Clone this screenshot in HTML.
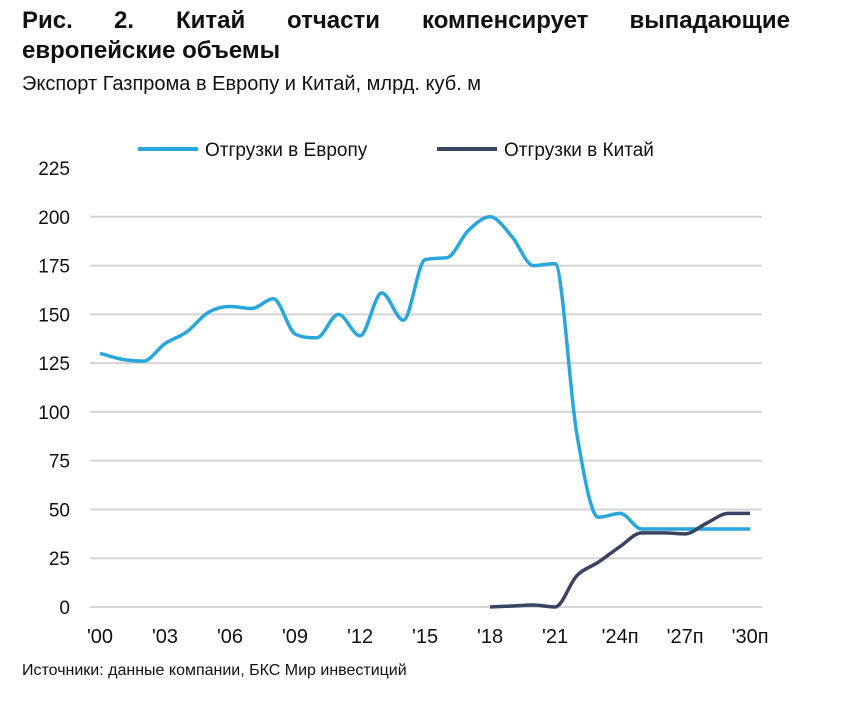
<!DOCTYPE html>
<html><head><meta charset="utf-8"><style>
body{margin:0;background:#fff;font-family:"Liberation Sans",sans-serif;}
svg text{font-family:"Liberation Sans",sans-serif;}
</style></head><body>
<svg width="865" height="697" viewBox="0 0 865 697">
<g font-size="24" font-weight="bold" fill="#111">
<text x="22" y="28">Рис.</text><text x="114" y="28">2.</text><text x="176" y="28">Китай</text><text x="287" y="28">отчасти</text><text x="422" y="28">компенсирует</text><text x="790" y="28" text-anchor="end">выпадающие</text>
</g>
<text x="22" y="58" font-size="24" font-weight="bold" fill="#111">европейские объемы</text>
<text x="22" y="90" font-size="20" fill="#111">Экспорт Газпрома в Европу и Китай, млрд. куб. м</text>
<g id="grid"></g><g id="ylab"></g><g id="xlab"></g><g id="series"></g>
<g>
<line x1="138" y1="149" x2="198" y2="149" stroke="#29a6dc" stroke-width="4"/>
<text x="205" y="156" font-size="19" fill="#111">Отгрузки в Европу</text>
<line x1="437" y1="149" x2="497" y2="149" stroke="#384461" stroke-width="4"/>
<text x="504" y="156" font-size="19" fill="#111">Отгрузки в Китай</text>
</g>
<text x="22" y="675" font-size="16" fill="#111">Источники: данные компании, БКС Мир инвестиций</text>
</svg>
<script>
const years=[2000,2001,2002,2003,2004,2005,2006,2007,2008,2009,2010,2011,2012,2013,2014,2015,2016,2017,2018,2019,2020,2021,2022,2023,2024,2025,2026,2027,2028,2029,2030];
const europe=[130,127,126,135,141,151,154,153,158,140,138,150,139,161,147,178,179,193,200,190,175,176,89,46,48,40,40,40,40,40,40];
const chinaYears=[2018,2019,2020,2021,2022,2023,2024,2025,2026,2027,2028,2029,2030];
const china=[0,0.5,1,0,16,23,31,38,38,37.5,43,48,48];
const yTicks=[0,25,50,75,100,125,150,175,200,225];
const xTickYears=[2000,2003,2006,2009,2012,2015,2018,2021,2024,2027,2030];
const xTickLabels=["'00","'03","'06","'09","'12","'15","'18","'21","'24п","'27п","'30п"];
const NS="http://www.w3.org/2000/svg";
const X=y=>100+(y-2000)*21.67;
const Y=v=>607-v*1.951;
function mk(t,a,p){const e=document.createElementNS(NS,t);for(const k in a)e.setAttribute(k,a[k]);document.getElementById(p).appendChild(e);return e;}
yTicks.forEach(t=>{
 if(t<225){const l=mk('line',{x1:90,x2:762,y1:Y(t),y2:Y(t),stroke:'#d4d4d4','stroke-width':2},'grid');
 
 }
 const tx=mk('text',{x:70,y:Y(t)+7,'font-size':19,'text-anchor':'end',fill:'#111'},'ylab');tx.textContent=t;
 
 
});
xTickYears.forEach((y,i)=>{
 const tx=mk('text',{x:X(y),y:643,'font-size':20,'text-anchor':'middle',fill:'#111'},'xlab');tx.textContent=xTickLabels[i];
 
 
});
function path(xs,vs){
 const p=xs.map((x,i)=>[X(x),Y(vs[i])]);const n=p.length;
 const d=[],m=[];
 for(let i=0;i<n-1;i++)d.push((p[i+1][1]-p[i][1])/(p[i+1][0]-p[i][0]));
 for(let i=0;i<n;i++){
  if(i===0)m.push(d[0]);else if(i===n-1)m.push(d[n-2]);
  else if(d[i-1]*d[i]<=0)m.push(0);else m.push((d[i-1]+d[i])/2);
 }
 for(let i=0;i<n-1;i++){if(d[i]===0){m[i]=0;m[i+1]=0;continue;}
  const a=m[i]/d[i],b=m[i+1]/d[i],s=a*a+b*b;if(s>9){const t=3/Math.sqrt(s);m[i]=t*a*d[i];m[i+1]=t*b*d[i];}}
 let s='M'+p[0][0]+','+p[0][1];
 for(let i=0;i<n-1;i++){const h=(p[i+1][0]-p[i][0])/3;
  s+=` C${p[i][0]+h},${p[i][1]+m[i]*h} ${p[i+1][0]-h},${p[i+1][1]-m[i+1]*h} ${p[i+1][0]},${p[i+1][1]}`;}
 return s;}
const e=mk('path',{d:path(years,europe),fill:'none',stroke:'#29a6dc','stroke-width':3.5},'series');


const c=mk('path',{d:path(chinaYears,china),fill:'none',stroke:'#384461','stroke-width':3.5},'series');


</script>
</body></html>
